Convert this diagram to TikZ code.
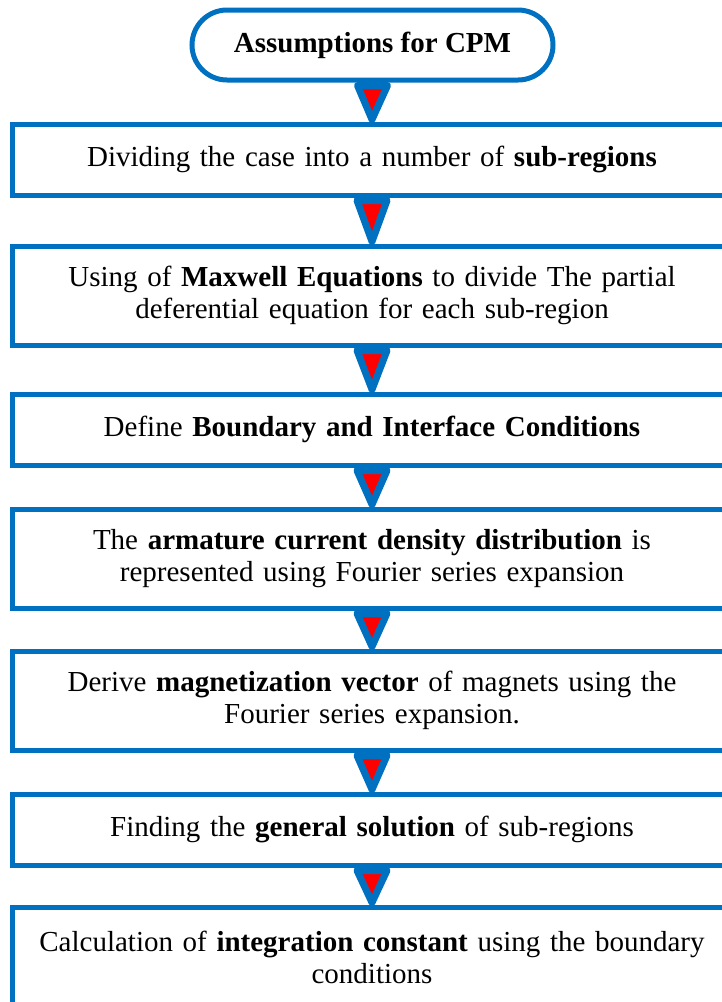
\documentclass[tikz,border=0pt]{standalone}
\usepackage{fontspec}
\setmainfont{Liberation Serif}
\usetikzlibrary{calc, positioning}
\definecolor{boxblue}{RGB}{0,112,192}
\definecolor{arrowred}{RGB}{255,0,0}

\begin{document}
\begin{tikzpicture}[x=1pt, y=-1pt,
    stepbox/.style={draw=boxblue, line width=5pt, minimum width=720pt, text width=690pt,
        align=center, inner sep=0pt, font=\fontsize{29}{32}\selectfont},
    startbox/.style={draw=boxblue, line width=5pt, rounded corners=35pt, minimum width=361pt,
        minimum height=70pt, inner sep=0pt, font=\bfseries\fontsize{29}{32}\selectfont},
    flowarrow/.style={draw=boxblue, fill=arrowred, line width=7pt, line join=round}]

    \useasboundingbox (0,0) rectangle (722,1002);

    % Start
    \node[startbox] (start) at (372.5,45) {Assumptions for CPM};

    % Steps
    \node[stepbox, minimum height=71pt] (b1) at (372,159.5)
        {Dividing the case into a number of \textbf{sub-regions}};
    \node[stepbox, minimum height=99pt] (b2) at (372,295.5)
        {Using of \textbf{Maxwell Equations} to divide The partial\\deferential equation for each sub-region};
    \node[stepbox, minimum height=71pt] (b3) at (372,429.5)
        {Define \textbf{Boundary and Interface Conditions}};
    \node[stepbox, minimum height=99pt] (b4) at (372,558.5)
        {The \textbf{armature current density distribution} is\\represented using Fourier series expansion};
    \node[stepbox, minimum height=99pt] (b5) at (372,700.5)
        {Derive \textbf{magnetization vector} of magnets using the\\Fourier series expansion.};
    \node[stepbox, minimum height=71pt] (b6) at (372,829.5)
        {Finding the \textbf{general solution} of sub-regions};
    \node[stepbox, minimum height=100pt] (b7) at (372,957)
        {Calculation of \textbf{integration constant} using the boundary\\conditions};

    % Arrows
    \foreach \u/\v in {start/b1, b1/b2, b2/b3, b3/b4, b4/b5, b5/b6, b6/b7}
        \filldraw[flowarrow] ($(\u.south)+(-15,3)$) -- ($(\u.south)+(15,3)$)
            -- ($(\v.north)+(0,-2)$) -- cycle;

\end{tikzpicture}
\end{document}
